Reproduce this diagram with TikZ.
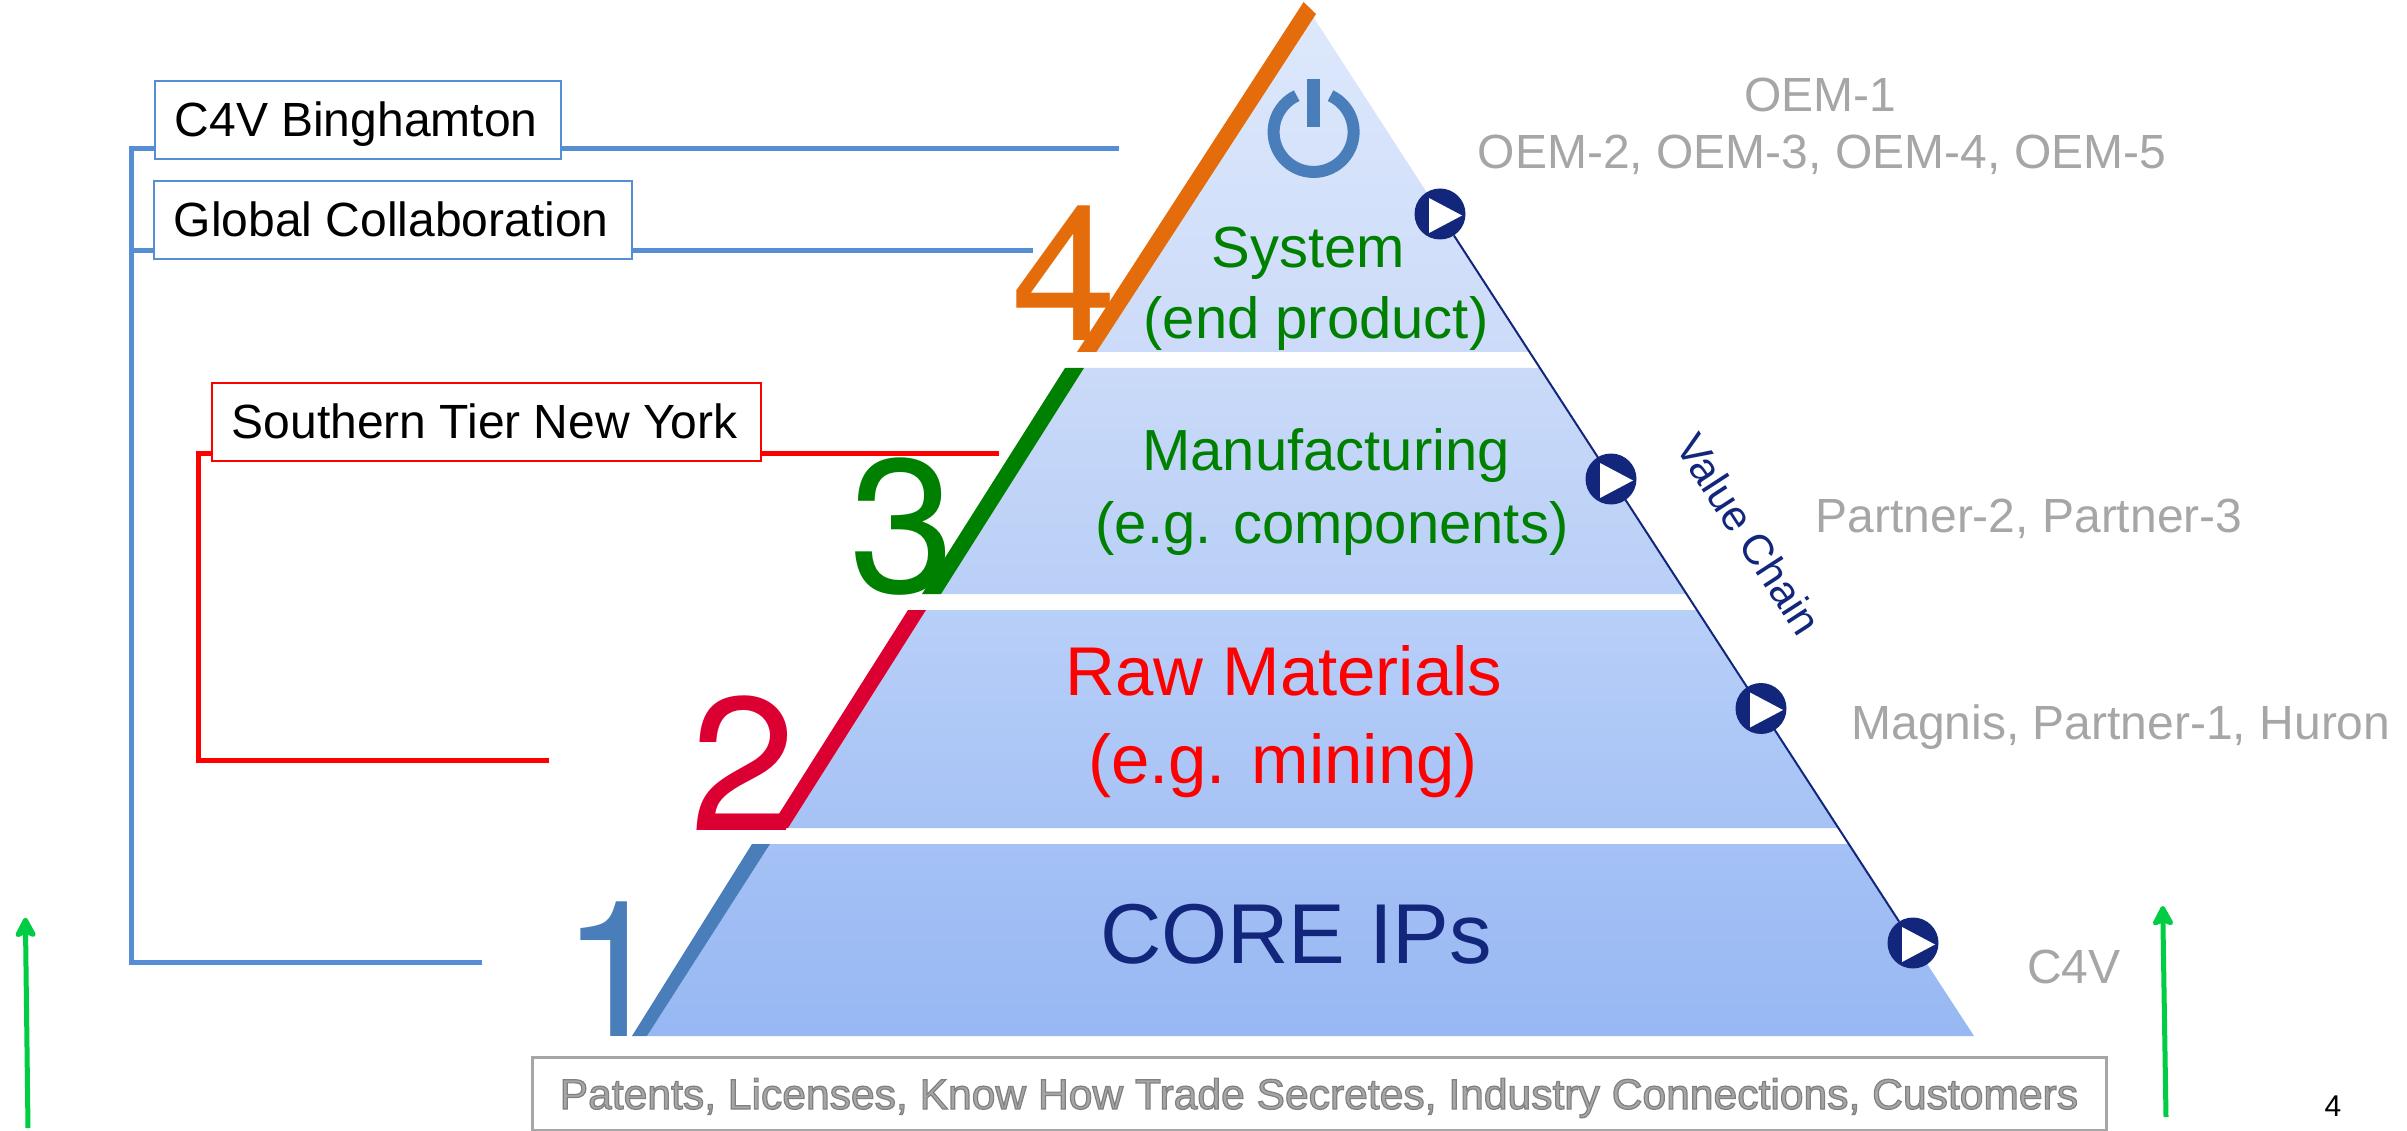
\documentclass[tikz,border=0pt]{standalone}
\usepackage{fontspec}
\setmainfont{Liberation Sans}
\newfontfamily\digitfont{TeX Gyre Heros}
\usetikzlibrary{arrows.meta}
\definecolor{navy}{HTML}{12277C}
\definecolor{lineblue}{HTML}{558ED5}
\definecolor{iconblue}{HTML}{4A7EBB}
\definecolor{grtxt}{HTML}{A6A6A6}
\definecolor{tgreen}{HTML}{008000}
\definecolor{torange}{HTML}{E46C0A}
\definecolor{tred}{HTML}{DC0032}
\definecolor{arrowgreen}{HTML}{00CC44}
\definecolor{ta}{HTML}{DDE8FB}
\definecolor{tb}{HTML}{CCDBF9}
\definecolor{tc}{HTML}{CADAF8}
\definecolor{td}{HTML}{B9CFF7}
\definecolor{te}{HTML}{B8CFF8}
\definecolor{tf}{HTML}{A6C2F5}
\definecolor{tg}{HTML}{A5C1F5}
\definecolor{th}{HTML}{97B8F3}
\newcommand{\fsz}[1]{\fontsize{#1}{#1}\selectfont}
\tikzset{
  lbl/.style={anchor=base,inner sep=0pt},
  greytext/.style={lbl,text=grtxt,font=\fsz{48}},
  digit/.style={lbl,font=\digitfont\fsz{190}},
  tierline/.style={lbl,font=\fsz{58}},
  bluebox/.style={draw=lineblue,line width=2pt,fill=white,inner sep=0pt,minimum height=78pt,text=black,font=\fsz{48},text height=34pt,text depth=0pt,execute at end node={\kern3pt}},
  redbox/.style={bluebox,draw=red},
  blueconn/.style={draw=lineblue,line width=5pt},
  redconn/.style={draw=red,line width=5pt},
  chainbtn/.style={circle,fill=navy,minimum size=51pt,inner sep=0pt},
  greenarrow/.style={draw=arrowgreen,line width=5pt,-{Stealth[length=24pt,width=25pt,inset=5pt,round]}},
}
\begin{document}
\begin{tikzpicture}[x=1pt,y=-1pt]
\useasboundingbox (0,0) rectangle (2407,1131);
% tiers
\shade[top color=ta,bottom color=tb] (1096.4,352) -- (1312,15) -- (1530,352) -- cycle;
\shade[top color=tc,bottom color=td] (1084,368) -- (1540,368) -- (1687,594) -- (941,594) -- cycle;
\shade[top color=te,bottom color=tf] (926,610) -- (1697,610) -- (1839,828) -- (788,828) -- cycle;
\shade[top color=tg,bottom color=th] (770,844) -- (1849,844) -- (1974,1036) -- (647,1036) -- cycle;
% digits
\node[digit,text=torange] (d4) at (1064,341) {4};
\node[digit,text=tgreen] (d3) at (902,592) {3};
\node[digit,text=tred] (d2) at (743,830) {2};
\node[digit,text=iconblue] (d1) at (614,1036) {1};
% coloured edges
\fill[torange] (1077,352) -- (1303.6,2) -- (1316,14) -- (1096.4,352) -- cycle;
\fill[tgreen] (1065,368) -- (1084,368) -- (941,594) -- (922,594) -- cycle;
\fill[tred] (908,610) -- (926,610) -- (788,828) -- (770,828) -- cycle;
\fill[iconblue] (752,844) -- (770,844) -- (647,1036) -- (632,1036) -- cycle;
% power icon
\draw[iconblue,line width=12pt] (1296.7,95.7) arc[start angle=115,delta angle=310,radius=40pt];
\fill[iconblue] (1307,79) rectangle (1320,127);
% value chain
\node[chainbtn] (c1) at (1440,214) {};
\node[chainbtn] (c2) at (1611,479) {};
\node[chainbtn] (c3) at (1761,708.5) {};
\node[chainbtn] (c4) at (1913,943) {};
\draw[navy,line width=2pt] (c1) -- (c4);
\foreach \btn in {c1,c2,c3,c4}{
  \fill[white] ([shift={(-11,-16)}]\btn.center) -- ([shift={(22,1.5)}]\btn.center) -- ([shift={(-11,19)}]\btn.center) -- cycle;
}
\node[inner sep=0pt,rotate=-57,text=navy,font=\fsz{42.5}] (vc) at (1749,534) {Value Chain};
% tier labels
\node[tierline,text=tgreen] (t4a) at (1308,268) {System};
\node[tierline,text=tgreen] (t4b) at (1316,339) {(end product)};
\node[tierline,text=tgreen] (t3a) at (1326,470) {Manufacturing};
\node[tierline,text=tgreen] (t3b) at (1332,543) {(e.g. components)};
\node[lbl,text=red,font=\fsz{69}] (t2a) at (1284,695) {Raw Materials};
\node[lbl,text=red,font=\fsz{69}] (t2b) at (1283,783) {(e.g. mining)};
\node[lbl,text=navy,font=\fsz{85}] (t1) at (1296,963) {CORE IPs};
% connector coordinates
\coordinate (bl1) at (131.7,149);
\coordinate (bl2) at (131.7,251);
\coordinate (bl3) at (131.7,962);
\coordinate (be1) at (1119,149);
\coordinate (be2) at (1032.6,251);
\coordinate (be3) at (479,962);
\coordinate (rl1) at (198,453);
\coordinate (rl2) at (198,760);
\coordinate (re1) at (999,453);
\coordinate (re2) at (546,760);
% boxes
\node[bluebox,minimum width=406pt] (bing) at (357.6,120) {C4V Binghamton};
\node[bluebox,minimum width=478pt] (glob) at (392.8,219.7) {Global Collaboration};
\node[redbox,minimum width=549pt] (st) at (486.2,421.7) {Southern Tier New York};
% connectors
\draw[blueconn,line cap=rect] (bing.west |- bl1) -- (bl1) -- (bl3) -- (be3);
\draw[blueconn] (glob.west |- bl2) -- (bl2);
\draw[blueconn] (bing.east |- be1) -- (be1);
\draw[blueconn] (glob.east |- be2) -- (be2);
\draw[redconn,line cap=rect] (st.west |- rl1) -- (rl1) -- (rl2) -- (re2);
\draw[redconn] (st.east |- re1) -- (re1);
% right labels
\node[greytext] (o1) at (1820,112) {OEM-1};
\node[greytext] (o2) at (1822,169) {OEM-2, OEM-3, OEM-4, OEM-5};
\node[greytext] (p2) at (2029,532) {Partner-2, Partner-3};
\node[greytext] (mg) at (2121,739) {Magnis, Partner-1, Huron};
\node[greytext] (c4v) at (2074,983) {C4V};
% bottom box
\node[draw=grtxt,line width=3pt,fill=white,inner sep=0pt,minimum width=1574pt,minimum height=73pt,text height=31pt,text depth=0pt,font=\fsz{42.6},text=grtxt] (pat) at (1319,1093.5) {\special{pdf:code 2 Tr 1.2 w 0.5 0.5 0.5 RG}Patents, Licenses, Know How Trade Secretes, Industry Connections, Customers\special{pdf:code 0 Tr}};
% green arrows
\coordinate (a1s) at (28,1128);
\coordinate (a1e) at (25.4,917.7);
\coordinate (a2s) at (2166,1117);
\coordinate (a2e) at (2162.7,906);
\draw[greenarrow] (a1s) -- (a1e);
\draw[greenarrow] (a2s) -- (a2e);
\node[lbl,font=\fsz{30}] (pg) at (2333,1116) {4};
\end{tikzpicture}
\end{document}
